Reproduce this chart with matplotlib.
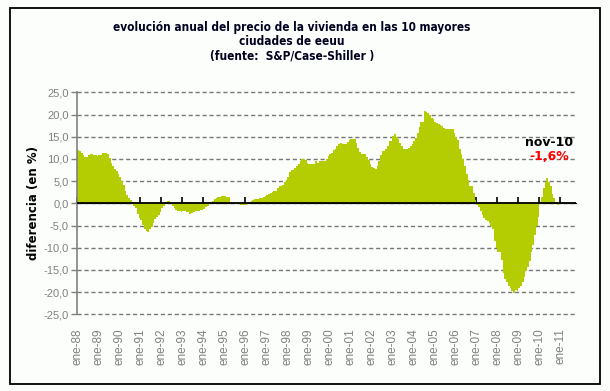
import matplotlib
matplotlib.use("Agg")
import matplotlib.pyplot as plt
import numpy as np
from matplotlib.patches import Rectangle

# Monthly YoY change (%) of the S&P/Case-Shiller 10-city index, Jan-1988 .. Nov-2010
v1988 = [12.1, 11.7, 11.4, 10.8, 10.5, 10.5, 10.8, 11.0, 11.0, 10.8, 10.8, 10.6]
v1989 = [10.8, 10.8, 11.4, 11.4, 11.4, 11.2, 10.2, 9.1, 8.3, 7.7, 7.2, 6.6]
v1990 = [5.9, 5.1, 4.2, 2.8, 1.9, 1.3, 0.8, 0.3, -0.6, -1.1, -2.3, -3.4]
v1991 = [-3.8, -4.9, -5.9, -6.2, -6.4, -5.9, -5.3, -4.5, -3.6, -3.1, -2.6, -1.9]
v1992 = [-1.1, -0.6, 0.4, 0.5, 0.5, 0.2, -0.5, -1.0, -1.4, -1.7, -1.7, -1.9]
v1993 = [-1.8, -1.7, -2.0, -2.0, -2.3, -2.1, -1.9, -1.8, -1.7, -1.7, -1.5, -1.4]
v1994 = [-1.2, -0.9, -0.6, -0.2, 0.2, 0.5, 0.9, 1.2, 1.4, 1.4, 1.7, 1.7]
v1995 = [1.7, 1.4, 1.4, 0.3, 0.15, 0.1, -0.2, -0.2, -0.2, -0.4, -0.4, -0.4]
v1996 = [-0.3, -0.2, 0.1, 0.5, 0.8, 1.0, 1.0, 1.0, 1.3, 1.3, 1.5, 1.7]
v1997 = [1.8, 2.0, 2.3, 2.6, 2.8, 2.8, 3.4, 3.9, 3.9, 4.2, 4.7, 5.3]
v1998 = [5.9, 7.0, 7.6, 7.6, 8.0, 8.5, 8.9, 9.5, 10.0, 10.0, 9.7, 9.1]
v1999 = [8.9, 8.9, 8.9, 8.9, 9.5, 9.1, 9.5, 9.5, 9.5, 9.5, 10.0, 10.6]
v2000 = [11.0, 11.4, 12.1, 12.3, 12.8, 13.3, 13.5, 13.3, 13.3, 13.3, 13.8, 14.2]
v2001 = [14.5, 14.5, 14.5, 13.6, 12.5, 11.5, 11.2, 11.0, 11.0, 10.5, 9.8, 8.9]
v2002 = [8.2, 8.0, 7.8, 8.3, 9.6, 10.8, 11.7, 11.7, 12.3, 13.0, 14.0, 14.0]
v2003 = [15.2, 15.5, 15.0, 14.5, 13.6, 12.9, 12.3, 12.3, 12.3, 12.5, 12.9, 13.3]
v2004 = [14.0, 14.8, 15.9, 17.2, 18.4, 18.4, 20.7, 20.6, 20.3, 19.9, 19.3, 18.9]
v2005 = [18.2, 18.0, 17.8, 17.6, 17.3, 17.0, 16.7, 16.7, 16.8, 16.8, 16.7, 15.8]
v2006 = [15.0, 14.2, 12.3, 11.2, 10.0, 8.5, 6.5, 5.3, 3.9, 3.9, 2.4, 0.8]
v2007 = [-0.4, -0.9, -1.7, -2.7, -3.4, -3.7, -3.9, -4.4, -5.2, -5.9, -8.5, -10.0]
v2008 = [-11.0, -11.0, -12.7, -15.8, -17.0, -17.8, -18.6, -19.1, -19.7, -20.1, -19.5, -19.7]
v2009 = [-19.1, -18.6, -17.8, -16.7, -15.2, -14.4, -12.9, -11.0, -9.5, -7.2, -5.2, -3.0]
v2010 = [-0.2, 1.5, 3.4, 4.9, 5.7, 4.9, 3.8, 2.1, 1.1, 0.2, -0.4]

values = (v1988 + v1989 + v1990 + v1991 + v1992 + v1993 + v1994 + v1995 + v1996
          + v1997 + v1998 + v1999 + v2000 + v2001 + v2002 + v2003 + v2004 + v2005
          + v2006 + v2007 + v2008 + v2009 + v2010)

year_labels = ["ene-88", "ene-89", "ene-90", "ene-91", "ene-92", "ene-93", "ene-94",
               "ene-95", "ene-96", "ene-97", "ene-98", "ene-99", "ene-00", "ene-01",
               "ene-02", "ene-03", "ene-04", "ene-05", "ene-06", "ene-07", "ene-08",
               "ene-09", "ene-10", "ene-11"]
y_ticks = [25, 20, 15, 10, 5, 0, -5, -10, -15, -20, -25]
n_categories = 285
title_text = ("evolución anual del precio de la vivienda en las 10 mayores\n"
              "ciudades de eeuu\n(fuente:  S&P/Case-Shiller )")
ann_label = "nov-10"
ann_value = "-1,6%"

BG = "#fcfefc"
FILL = "#b4cc02"
GRAY = "#808080"

fig = plt.figure(figsize=(6.10, 3.91), dpi=100, facecolor=BG)
W, H = 610.0, 391.0

# outer border
fig.patches.append(Rectangle((10 / W, 1 - 384 / H), 590 / W, 376 / H,
                             transform=fig.transFigure, fill=False,
                             edgecolor="black", linewidth=1.3))

ax = fig.add_axes([77.3 / W, 1 - 314.3 / H, (576 - 77.3) / W, (314.3 - 92.3) / H])
ax.set_facecolor(BG)

x = np.arange(len(values))
ax.bar(x, values, width=1.0, align="edge", color=FILL, linewidth=0, zorder=2)

ax.set_xlim(0, n_categories)
ax.set_ylim(-25, 25)

# y axis
ax.set_yticks(y_ticks)
ax.set_yticklabels([f"{t:.1f}".replace(".", ",") for t in y_ticks],
                   fontsize=8, color=GRAY, family="Liberation Sans")
ax.tick_params(axis="y", direction="out", length=4, color=GRAY, width=1, pad=2)
ax.yaxis.grid(True, linestyle=(0, (3, 2)), color="#777777", linewidth=1.0)
ax.set_axisbelow(True)
for gl in ax.yaxis.get_gridlines():
    gl.set_clip_on(False)

ax.spines["left"].set_color(GRAY)
ax.spines["left"].set_linewidth(1.2)
for s in ["top", "right", "bottom"]:
    ax.spines[s].set_visible(False)

# x labels at bottom
xt = np.arange(0, n_categories, 12)[:len(year_labels)]
ax.set_xticks(xt)
ax.set_xticklabels(year_labels, rotation=90, fontsize=8.5, color=GRAY,
                   family="Liberation Sans")
ax.tick_params(axis="x", length=0, pad=10)

# zero axis line drawn over the bars, with ticks via a secondary axis
ax.axhline(0, color="black", linewidth=1.3, zorder=4)
sec = ax.secondary_xaxis(0.5)
sec.set_xticks(xt)
sec.set_xticklabels([])
sec.tick_params(axis="x", direction="out", length=4, width=1.2, color="black")
sec.spines["bottom"].set_visible(False)

ax.set_ylabel("diferencia (en %)", fontsize=8.5, fontweight="bold",
              color="black")
ax.yaxis.set_label_coords(-0.074, 0.5)

fig.text(292 / W, 1 - 41.5 / H, title_text, ha="center", va="center",
         fontsize=8.5, fontweight="bold", color="#000020", linespacing=1.15,
         family="DejaVu Sans", fontstretch="condensed")

fig.text(549 / W, 1 - 143 / H, ann_label, ha="center", va="center",
         fontsize=9, fontweight="bold", color="black")
fig.text(549 / W, 1 - 156 / H, ann_value, ha="center", va="center",
         fontsize=9, fontweight="bold", color="#ff0000")

fig.savefig("out.png", dpi=100, facecolor=BG)
